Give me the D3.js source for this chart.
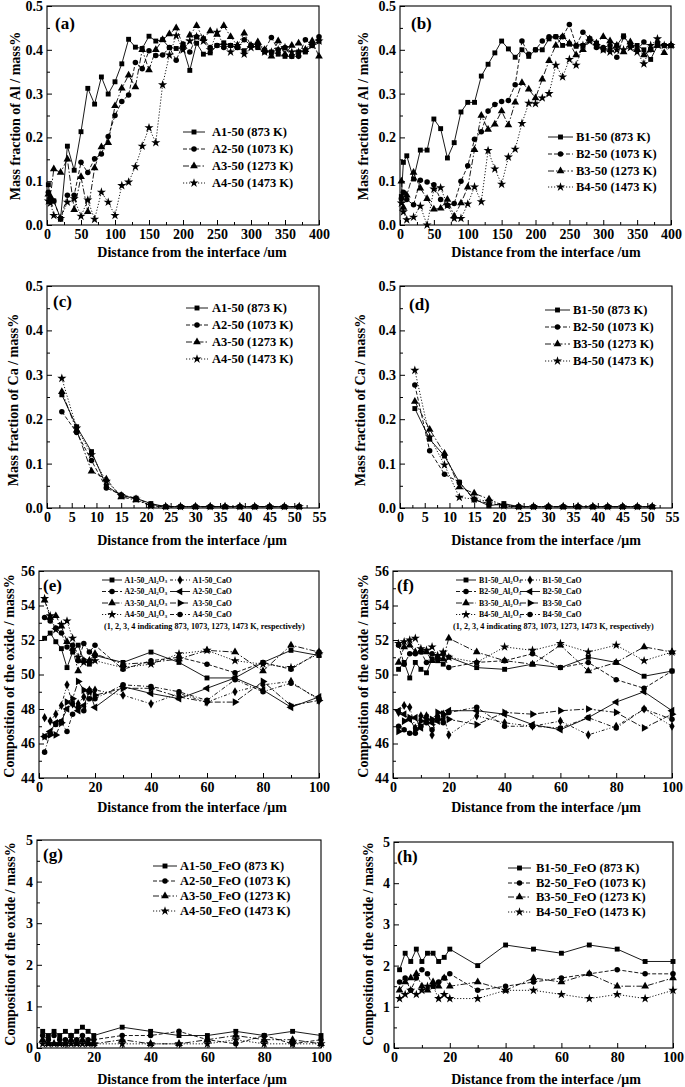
<!DOCTYPE html>
<html><head><meta charset="utf-8">
<script src="https://cdn.jsdelivr.net/npm/d3@7"></script>
<style>
body{margin:0;background:#fff}
text{font-family:"Liberation Serif","Times New Roman",serif;font-weight:bold;fill:#000}
</style>
</head><body>
<svg id="chart" width="685" height="1087"></svg>
<script>
// ---------- data ----------
const xAl = [2,5,10,20,30,40,50,60,70,80,90,100,110,120,130,140,150,160,170,180,190,200,210,220,230,240,250,260,270,280,290,300,310,320,330,340,350,360,370,380,390,400];
const A1_Al = [0.092,0.057,0.055,0.015,0.18,0.125,0.213,0.312,0.276,0.338,0.299,0.327,0.368,0.424,0.406,0.403,0.431,0.42,0.423,0.405,0.403,0.405,0.353,0.415,0.39,0.393,0.41,0.416,0.41,0.405,0.398,0.41,0.405,0.395,0.395,0.39,0.385,0.385,0.395,0.395,0.41,0.42];
const A2_Al = [0.075,0.06,0.055,0.013,0.068,0.068,0.143,0.12,0.151,0.162,0.202,0.25,0.282,0.297,0.371,0.357,0.398,0.387,0.388,0.405,0.376,0.413,0.395,0.43,0.425,0.405,0.41,0.405,0.41,0.405,0.423,0.41,0.41,0.40,0.428,0.40,0.405,0.385,0.385,0.423,0.41,0.43];
const A3_Al = [0.07,0.065,0.128,0.12,0.15,0.035,0.11,0.03,0.13,0.178,0.188,0.272,0.312,0.342,0.315,0.40,0.354,0.40,0.423,0.436,0.45,0.41,0.433,0.455,0.425,0.443,0.435,0.455,0.43,0.41,0.438,0.41,0.418,0.40,0.385,0.42,0.39,0.41,0.415,0.40,0.42,0.385];
const A4_Al = [0.055,0.05,0.022,0.015,0.052,0.06,0.02,0.057,0.013,0.075,0.052,0.022,0.09,0.098,0.133,0.18,0.222,0.188,0.32,0.388,0.432,0.40,0.42,0.43,0.42,0.40,0.44,0.41,0.395,0.41,0.39,0.405,0.41,0.395,0.395,0.40,0.405,0.395,0.395,0.40,0.41,0.42];
const B1_Al = [0.065,0.143,0.158,0.105,0.171,0.171,0.242,0.22,0.153,0.188,0.258,0.28,0.28,0.34,0.367,0.393,0.42,0.402,0.383,0.40,0.385,0.40,0.40,0.425,0.43,0.41,0.413,0.408,0.41,0.425,0.415,0.40,0.40,0.41,0.432,0.41,0.41,0.40,0.378,0.41,0.41,0.41];
const B2_Al = [0.06,0.075,0.058,0.046,0.102,0.098,0.092,0.058,0.045,0.049,0.10,0.135,0.196,0.213,0.26,0.275,0.282,0.284,0.32,0.42,0.39,0.40,0.42,0.43,0.43,0.43,0.458,0.41,0.44,0.425,0.405,0.405,0.41,0.383,0.43,0.41,0.40,0.418,0.40,0.415,0.41,0.41];
const B3_Al = [0.10,0.04,0.068,0.12,0.084,0.06,0.036,0.038,0.058,0.02,0.05,0.086,0.172,0.25,0.218,0.23,0.26,0.228,0.28,0.325,0.31,0.29,0.333,0.375,0.41,0.43,0.415,0.388,0.40,0.425,0.415,0.43,0.42,0.41,0.395,0.418,0.40,0.388,0.40,0.41,0.393,0.41];
const B4_Al = [0.05,0.03,0.012,0.018,0.043,0.0,0.082,0.085,0.045,0.015,0.015,0.048,0.087,0.053,0.17,0.128,0.093,0.155,0.173,0.232,0.278,0.277,0.29,0.30,0.365,0.338,0.378,0.365,0.41,0.42,0.41,0.40,0.395,0.40,0.40,0.405,0.395,0.368,0.41,0.425,0.41,0.41];

const xCa = [3,6,9,12,15,18,21,24,27,30,33,36,39,42,45,48,51];
const A1_Ca = [0.255,0.183,0.127,0.05,0.028,0.022,0.01,0.003,0.003,0.003,0.003,0.003,0.003,0.003,0.003,0.003,0.003];
const A2_Ca = [0.217,0.17,0.107,0.045,0.03,0.022,0.008,0.003,0.003,0.003,0.003,0.003,0.003,0.003,0.003,0.003,0.003];
const A3_Ca = [0.262,0.175,0.083,0.065,0.025,0.018,0.005,0.003,0.003,0.003,0.003,0.003,0.003,0.003,0.003,0.003,0.003];
const A4_Ca = [0.292,0.18,0.12,0.06,0.028,0.02,0.005,0.003,0.003,0.003,0.003,0.003,0.003,0.003,0.003,0.003,0.003];
const B1_Ca = [0.224,0.155,0.117,0.058,0.02,0.005,0.01,0.003,0.003,0.003,0.003,0.003,0.003,0.003,0.003,0.003,0.003];
const B2_Ca = [0.277,0.129,0.076,0.058,0.018,0.01,0.005,0.003,0.003,0.003,0.003,0.003,0.003,0.003,0.003,0.003,0.003];
const B3_Ca = [0.24,0.177,0.123,0.047,0.033,0.02,0.005,0.003,0.003,0.003,0.003,0.003,0.003,0.003,0.003,0.003,0.003];
const B4_Ca = [0.31,0.16,0.097,0.024,0.02,0.015,0.005,0.003,0.003,0.003,0.003,0.003,0.003,0.003,0.003,0.003,0.003];

const xOx = [2,4,6,8,10,12,14,16,18,20,30,40,50,60,70,80,90,100];
const A1_Al2O3 = [52.1,52.4,51.9,51.5,50.4,51.3,51.7,50.8,50.6,51.1,50.7,51.3,50.7,49.8,49.8,50.7,51.4,51.1];
const A2_Al2O3 = [53.3,53.1,52.7,52.4,51.6,51.7,50.8,51.8,51.3,51.7,50.3,50.8,51.0,50.6,50.1,50.7,50.3,51.3];
const A3_Al2O3 = [54.3,53.3,53.4,52.8,51.9,51.5,50.2,50.8,50.8,51.2,50.6,50.7,50.9,51.4,51.3,50.2,51.7,51.3];
const A4_Al2O3 = [54.4,53.4,52.6,52.9,53.1,52.1,51.0,50.7,50.8,50.8,50.4,50.6,51.2,51.4,50.8,50.6,50.4,51.2];
const A1_CaO = [47.5,47.3,47.7,48.2,49.4,48.3,48.3,48.7,49.1,49.1,48.8,48.3,48.9,48.4,49.0,49.4,49.6,48.5];
const A2_CaO = [46.4,46.7,47.2,47.3,48.0,48.3,47.9,48.2,49.0,48.1,49.3,48.9,48.6,49.2,49.8,49.1,48.1,48.7];
const A3_CaO = [46.4,46.5,46.5,47.2,48.4,48.6,49.6,49.1,49.0,48.8,49.2,49.2,48.7,48.4,48.4,49.6,48.2,48.5];
const A4_CaO = [45.5,46.6,47.1,47.2,46.7,47.7,48.1,47.9,48.6,48.6,49.4,49.3,49.0,48.5,49.7,49.0,49.5,48.6];
const B1_Al2O3 = [50.3,50.7,49.8,50.7,50.3,50.1,50.9,50.8,50.6,51.0,50.4,50.3,50.6,50.4,51.0,50.7,49.9,50.2];
const B2_Al2O3 = [51.7,50.6,51.2,51.2,51.3,50.7,51.2,51.0,51.2,50.4,50.7,50.8,51.2,50.4,50.7,49.7,49.2,50.2];
const B3_Al2O3 = [50.7,51.6,51.7,51.3,51.4,51.3,50.8,51.0,50.9,52.1,51.3,50.8,50.6,51.7,50.2,50.7,51.6,51.3];
const B4_Al2O3 = [51.8,51.9,52.0,52.1,51.5,51.4,51.6,51.1,51.3,51.0,50.7,51.6,51.4,51.8,51.3,51.7,50.8,51.3];
const B1_CaO = [47.8,48.2,48.1,46.9,47.6,47.6,46.5,47.6,47.7,46.5,47.6,47.2,47.0,47.3,46.5,47.0,48.0,47.0];
const B2_CaO = [47.9,47.7,47.4,47.5,46.9,47.5,47.2,47.3,47.4,47.9,47.9,47.7,47.1,46.8,47.5,48.4,49.0,47.9];
const B3_CaO = [46.7,47.3,47.5,46.8,47.3,47.4,47.4,47.8,47.7,47.4,47.1,47.8,47.7,47.9,48.0,47.8,46.9,47.7];
const B4_CaO = [47.0,46.8,46.6,46.6,47.0,47.2,46.8,47.5,47.2,47.8,48.1,47.0,47.0,46.9,47.5,46.9,48.0,47.4];

const A1_FeO = [0.4,0.3,0.4,0.3,0.4,0.3,0.4,0.5,0.4,0.3,0.5,0.4,0.3,0.3,0.4,0.3,0.4,0.3];
const A2_FeO = [0.3,0.2,0.3,0.2,0.2,0.3,0.2,0.3,0.2,0.2,0.3,0.3,0.4,0.2,0.1,0.3,0.1,0.2];
const A3_FeO = [0.2,0.1,0.1,0.1,0.1,0.2,0.1,0.2,0.1,0.1,0.2,0.1,0.1,0.2,0.3,0.2,0.2,0.1];
const A4_FeO = [0.1,0.1,0.1,0.1,0.1,0.1,0.1,0.1,0.1,0.1,0.1,0.1,0.1,0.1,0.2,0.1,0.1,0.1];
const B1_FeO = [1.9,2.3,2.1,2.4,2.1,2.3,2.3,2.1,2.2,2.4,2.0,2.5,2.4,2.3,2.5,2.4,2.1,2.1];
const B2_FeO = [1.6,1.7,1.4,1.7,1.9,1.8,1.5,1.6,1.7,1.8,1.4,1.5,1.6,1.7,1.8,1.9,1.8,1.8];
const B3_FeO = [1.4,1.6,1.7,1.8,1.5,1.4,1.6,1.5,1.7,1.5,1.6,1.4,1.7,1.6,1.8,1.5,1.5,1.7];
const B4_FeO = [1.2,1.3,1.4,1.3,1.4,1.5,1.5,1.2,1.3,1.2,1.2,1.4,1.4,1.3,1.2,1.3,1.2,1.4];

const tickAlX = [0,50,100,150,200,250,300,350,400];
const tickCaX = [0,5,10,15,20,25,30,35,40,45,50,55];
const tickOxX = [0,20,40,60,80,100];
const tickFracY = [0,0.1,0.2,0.3,0.4,0.5];
const tickOxY = [44,46,48,50,52,54,56];
const tickFeY = [0,1,2,3,4,5];

// ---------- styles ----------
const ST = {
  sq:{sym:d3.symbolSquare,size:24,rot:0,dash:null},
  ci:{sym:d3.symbolCircle,size:24,rot:0,dash:"4,2"},
  tr:{sym:d3.symbolTriangle,size:26,rot:0,dash:"6,2,1.5,2"},
  st:{sym:d3.symbolStar,size:26,rot:0,dash:"1.2,1.8"},
  di:{sym:d3.symbolDiamond,size:24,rot:0,dash:"3,2,1,2,1,2"},
  lt:{sym:d3.symbolTriangle,size:26,rot:-90,dash:null},
  rt:{sym:d3.symbolTriangle,size:26,rot:90,dash:"6,2,2,2"},
  c2:{sym:d3.symbolCircle,size:24,rot:0,dash:"4,2,1,2"}
};

const svg = d3.select("#chart");
const FONT_T = 14;

function drawMarker(g, st, cx, cy){
  g.append("path").attr("d", d3.symbol().type(st.sym).size(st.size)())
   .attr("transform",`translate(${cx},${cy}) rotate(${st.rot})`).attr("fill","#000");
}

function panel(c){
  const g = svg.append("g");
  const x = d3.scaleLinear().domain(c.xDom).range([c.x0,c.x1]);
  const y = d3.scaleLinear().domain(c.yDom).range([c.y1,c.y0]);
  const fx = c.xFmt || (d=>d);
  const fy = c.yFmt || (d=>d);
  g.append("g").attr("transform",`translate(0,${c.y1})`)
    .call(d3.axisBottom(x).tickValues(c.xMinor).tickSize(-3).tickFormat(""));
  g.append("g").attr("transform",`translate(${c.x0},0)`)
    .call(d3.axisLeft(y).tickValues(c.yMinor).tickSize(-3).tickFormat(""));
  g.append("g").attr("transform",`translate(0,${c.y1})`)
    .call(d3.axisBottom(x).tickValues(c.xTicks).tickSize(-5).tickPadding(4).tickFormat(fx));
  g.append("g").attr("transform",`translate(${c.x0},0)`)
    .call(d3.axisLeft(y).tickValues(c.yTicks).tickSize(-5).tickPadding(4).tickFormat(fy));
  g.selectAll(".domain").remove();
  g.selectAll(".tick line").attr("stroke","#000").attr("stroke-width",1);
  g.selectAll(".tick text").attr("font-size",FONT_T).attr("font-family",null).attr("fill","#000");
  g.append("rect").attr("x",c.x0).attr("y",c.y0).attr("width",c.x1-c.x0).attr("height",c.y1-c.y0)
    .attr("fill","none").attr("stroke","#000").attr("stroke-width",1.1);
  c.series.forEach(s=>{
    const st = ST[s.st];
    const pts = c.xs.map((xv,i)=>[xv,s.v[i]]);
    g.append("path").datum(pts)
      .attr("d", d3.line().x(d=>x(d[0])).y(d=>y(d[1])))
      .attr("fill","none").attr("stroke","#000").attr("stroke-width",0.9)
      .attr("stroke-dasharray", st.dash);
    pts.forEach(d=>drawMarker(g, st, x(d[0]), y(d[1])));
  });
  g.append("text").attr("x",c.lab[0]).attr("y",c.lab[1]).attr("font-size",17).text(c.label);
  g.append("text").attr("x",c.xtPos[0]).attr("y",c.xtPos[1]).attr("text-anchor","middle")
    .attr("font-size",FONT_T).text(c.xTitle);
  g.append("text").attr("transform",`translate(${c.ytPos[0]},${c.ytPos[1]}) rotate(-90)`)
    .attr("text-anchor","middle").attr("font-size",FONT_T).text(c.yTitle);
  const L = c.legend;
  L.items.forEach((it,i)=>{
    const col = it.col||0;
    const lx0 = L.cols[col][0], lx1 = L.cols[col][1], tx = L.cols[col][2];
    const ly = L.rows[i % L.rows.length];
    const st = ST[it.st];
    g.append("line").attr("x1",lx0).attr("x2",lx1).attr("y1",ly).attr("y2",ly)
      .attr("stroke","#000").attr("stroke-width",0.9).attr("stroke-dasharray",st.dash);
    drawMarker(g, st, (lx0+lx1)/2, ly);
    const t = g.append("text").attr("x",tx).attr("y",ly).attr("dy","0.35em").attr("font-size",L.fs);
    if (it.sub){
      t.append("tspan").text(it.sub);
      t.append("tspan").attr("font-size",L.fs*0.62).attr("dy","0.25em").text("2");
      t.append("tspan").attr("dy","-0.25em").text("O");
      t.append("tspan").attr("font-size",L.fs*0.62).attr("dy","0.25em").text("3");
    } else t.text(it.name);
  });
  if (L.note){
    g.append("text").attr("x",L.note[0]).attr("y",L.note[1]).attr("dy","0.35em")
      .attr("font-size",8.2).text("(1, 2, 3, 4 indicating 873, 1073, 1273, 1473 K, respectively)");
  }
}

const f1 = d=>d3.format(".1f")(d);
const umT = "Distance from the interface /um";
const muT = "Distance from the interface /\u03bcm";
const minorAl = [25,75,125,175,225,275,325,375];
const minorCa = [2.5,7.5,12.5,17.5,22.5,27.5,32.5,37.5,42.5,47.5,52.5];
const minorFrac = [0.05,0.15,0.25,0.35,0.45];

panel({x0:47,x1:319,y0:6,y1:225,xDom:[0,400],yDom:[0,0.5],xs:xAl,
  xTicks:tickAlX,xMinor:minorAl,yTicks:tickFracY,yMinor:minorFrac,yFmt:f1,
  label:"(a)",lab:[55,29],xTitle:umT,xtPos:[192,257],yTitle:"Mass fraction of Al / mass%",ytPos:[20,116],
  series:[{v:A1_Al,st:"sq"},{v:A2_Al,st:"ci"},{v:A3_Al,st:"tr"},{v:A4_Al,st:"st"}],
  legend:{fs:12.5,rows:[132,149,166,183],cols:[[183,205,212]],items:[
    {name:"A1-50 (873 K)",st:"sq"},{name:"A2-50 (1073 K)",st:"ci"},{name:"A3-50 (1273 K)",st:"tr"},{name:"A4-50 (1473 K)",st:"st"}]}
});
panel({x0:400,x1:671,y0:6,y1:225,xDom:[0,400],yDom:[0,0.5],xs:xAl,
  xTicks:tickAlX,xMinor:minorAl,yTicks:tickFracY,yMinor:minorFrac,yFmt:f1,
  label:"(b)",lab:[411,29],xTitle:umT,xtPos:[546,257],yTitle:"Mass fraction of Al / mass%",ytPos:[368,116],
  series:[{v:B1_Al,st:"sq"},{v:B2_Al,st:"ci"},{v:B3_Al,st:"tr"},{v:B4_Al,st:"st"}],
  legend:{fs:12.5,rows:[137,154,171,187],cols:[[548,573,576]],items:[
    {name:"B1-50 (873 K)",st:"sq"},{name:"B2-50 (1073 K)",st:"ci"},{name:"B3-50 (1273 K)",st:"tr"},{name:"B4-50 (1473 K)",st:"st"}]}
});
panel({x0:47,x1:319,y0:286,y1:508,xDom:[0,55],yDom:[0,0.5],xs:xCa,
  xTicks:tickCaX,xMinor:minorCa,yTicks:tickFracY,yMinor:minorFrac,yFmt:f1,
  label:"(c)",lab:[53,307],xTitle:muT,xtPos:[192,545],yTitle:"Mass fraction of Ca / mass%",ytPos:[18,400],
  series:[{v:A1_Ca,st:"sq"},{v:A2_Ca,st:"ci"},{v:A3_Ca,st:"tr"},{v:A4_Ca,st:"st"}],
  legend:{fs:12.5,rows:[308,325,342,359],cols:[[186,208,212]],items:[
    {name:"A1-50 (873 K)",st:"sq"},{name:"A2-50 (1073 K)",st:"ci"},{name:"A3-50 (1273 K)",st:"tr"},{name:"A4-50 (1473 K)",st:"st"}]}
});
panel({x0:400,x1:672,y0:286,y1:508,xDom:[0,55],yDom:[0,0.5],xs:xCa,
  xTicks:tickCaX,xMinor:minorCa,yTicks:tickFracY,yMinor:minorFrac,yFmt:f1,
  label:"(d)",lab:[409,310],xTitle:muT,xtPos:[546,545],yTitle:"Mass fraction of Ca / mass%",ytPos:[365,400],
  series:[{v:B1_Ca,st:"sq"},{v:B2_Ca,st:"ci"},{v:B3_Ca,st:"tr"},{v:B4_Ca,st:"st"}],
  legend:{fs:12.5,rows:[310,327,344,361],cols:[[545,570,573]],items:[
    {name:"B1-50 (873 K)",st:"sq"},{name:"B2-50 (1073 K)",st:"ci"},{name:"B3-50 (1273 K)",st:"tr"},{name:"B4-50 (1473 K)",st:"st"}]}
});
panel({x0:39,x1:319,y0:571,y1:778,xDom:[0,100],yDom:[44,56],xs:xOx,
  xTicks:tickOxX,xMinor:[10,30,50,70,90],yTicks:tickOxY,yMinor:[45,47,49,51,53,55],
  label:"(e)",lab:[43,591],xTitle:muT,xtPos:[192,812],yTitle:"Composition of the oxide / mass%",ytPos:[14,676],
  series:[{v:A1_Al2O3,st:"sq"},{v:A2_Al2O3,st:"ci"},{v:A3_Al2O3,st:"tr"},{v:A4_Al2O3,st:"st"},
          {v:A1_CaO,st:"di"},{v:A2_CaO,st:"lt"},{v:A3_CaO,st:"rt"},{v:A4_CaO,st:"c2"}],
  legend:{fs:7.8,rows:[580,591.5,603,614.5],cols:[[102,122,124.5],[170,190,192.5]],note:[104,626],items:[
    {sub:"A1-50_Al",st:"sq"},{sub:"A2-50_Al",st:"ci"},{sub:"A3-50_Al",st:"tr"},{sub:"A4-50_Al",st:"st"},
    {name:"A1-50_CaO",st:"di",col:1},{name:"A2-50_CaO",st:"lt",col:1},{name:"A3-50_CaO",st:"rt",col:1},{name:"A4-50_CaO",st:"c2",col:1}]}
});
panel({x0:393,x1:672,y0:571,y1:778,xDom:[0,100],yDom:[44,56],xs:xOx,
  xTicks:tickOxX,xMinor:[10,30,50,70,90],yTicks:tickOxY,yMinor:[45,47,49,51,53,55],
  label:"(f)",lab:[397,591],xTitle:muT,xtPos:[546,812],yTitle:"Composition of the oxide / mass%",ytPos:[368,676],
  series:[{v:B1_Al2O3,st:"sq"},{v:B2_Al2O3,st:"ci"},{v:B3_Al2O3,st:"tr"},{v:B4_Al2O3,st:"st"},
          {v:B1_CaO,st:"di"},{v:B2_CaO,st:"lt"},{v:B3_CaO,st:"rt"},{v:B4_CaO,st:"c2"}],
  legend:{fs:7.8,rows:[580,591.5,603,614.5],cols:[[456,476,479],[520,540,542.5]],note:[453,626],items:[
    {sub:"B1-50_Al",st:"sq"},{sub:"B2-50_Al",st:"ci"},{sub:"B3-50_Al",st:"tr"},{sub:"B4-50_Al",st:"st"},
    {name:"B1-50_CaO",st:"di",col:1},{name:"B2-50_CaO",st:"lt",col:1},{name:"B3-50_CaO",st:"rt",col:1},{name:"B4-50_CaO",st:"c2",col:1}]}
});
panel({x0:37,x1:321,y0:840,y1:1048,xDom:[0,100],yDom:[0,5],xs:xOx,
  xTicks:tickOxX,xMinor:[10,30,50,70,90],yTicks:tickFeY,yMinor:[0.5,1.5,2.5,3.5,4.5],
  label:"(g)",lab:[43,860],xTitle:muT,xtPos:[192,1084],yTitle:"Composition of the oxide / mass%",ytPos:[15,944],
  series:[{v:A1_FeO,st:"sq"},{v:A2_FeO,st:"ci"},{v:A3_FeO,st:"tr"},{v:A4_FeO,st:"st"}],
  legend:{fs:12.5,rows:[866,881,896,911],cols:[[153,177,180]],items:[
    {name:"A1-50_FeO (873 K)",st:"sq"},{name:"A2-50_FeO (1073 K)",st:"ci"},{name:"A3-50_FeO (1273 K)",st:"tr"},{name:"A4-50_FeO (1473 K)",st:"st"}]}
});
panel({x0:394,x1:673,y0:842,y1:1048,xDom:[0,100],yDom:[0,5],xs:xOx,
  xTicks:tickOxX,xMinor:[10,30,50,70,90],yTicks:tickFeY,yMinor:[0.5,1.5,2.5,3.5,4.5],
  label:"(h)",lab:[397,862],xTitle:muT,xtPos:[546,1084],yTitle:"Composition of the oxide / mass%",ytPos:[373,944],
  series:[{v:B1_FeO,st:"sq"},{v:B2_FeO,st:"ci"},{v:B3_FeO,st:"tr"},{v:B4_FeO,st:"st"}],
  legend:{fs:12.5,rows:[868,883,897,912],cols:[[508,531,536]],items:[
    {name:"B1-50_FeO (873 K)",st:"sq"},{name:"B2-50_FeO (1073 K)",st:"ci"},{name:"B3-50_FeO (1273 K)",st:"tr"},{name:"B4-50_FeO (1473 K)",st:"st"}]}
});
</script>
</body></html>
